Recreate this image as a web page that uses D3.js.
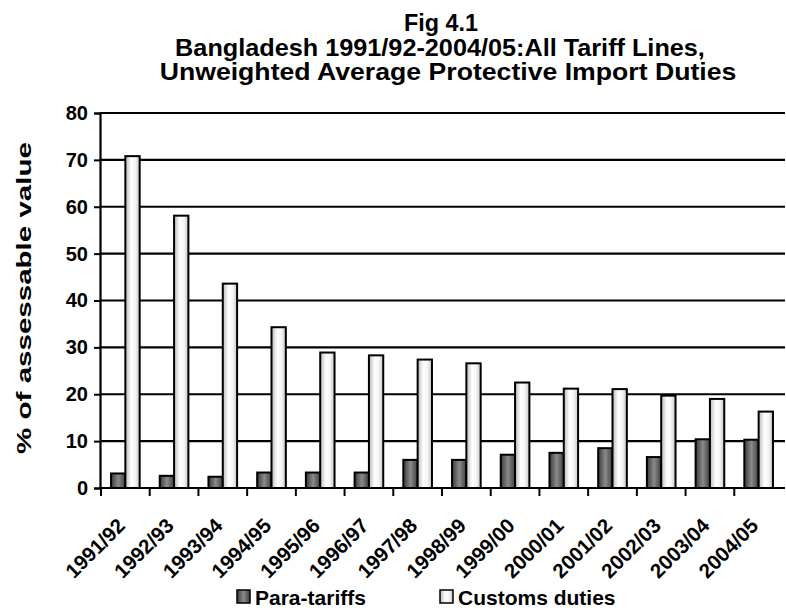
<!DOCTYPE html>
<html><head><meta charset="utf-8">
<script src="https://cdn.jsdelivr.net/npm/d3@7"></script>
<style>body{margin:0;background:#fff}svg{display:block}text{font-family:"Liberation Sans",Arial,sans-serif;font-weight:bold;fill:#000}</style>
</head><body>
<script>
const categories = ["1991/92","1992/93","1993/94","1994/95","1995/96","1996/97","1997/98","1998/99","1999/00","2000/01","2001/02","2002/03","2003/04","2004/05"];
const paraTariffs = [3.1,2.6,2.4,3.3,3.3,3.3,6.0,6.0,7.1,7.5,8.5,6.6,10.4,10.3];
const customsDuties = [70.8,58.1,43.6,34.3,28.9,28.3,27.4,26.6,22.5,21.2,21.1,19.7,19.0,16.3];
const seriesNames = ["Para-tariffs","Customs duties"];
const yTicks = [0,10,20,30,40,50,60,70,80];
const titleLines = ["Fig 4.1","Bangladesh 1991/92-2004/05:All Tariff Lines,","Unweighted Average Protective Import Duties"];
const yLabel = "% of assessable value";

const W=786,H=610;
const svg=d3.select("body").append("svg").attr("width",W).attr("height",H);
const defs=svg.append("defs");
function grad(id,stops){const g=defs.append("linearGradient").attr("id",id).attr("x1","0").attr("x2","1").attr("y1","0").attr("y2","0");
 stops.forEach(s=>g.append("stop").attr("offset",s[0]).attr("stop-color",s[1]));}
grad("gPara",[["0%","#3a3a3a"],["50%","#8a8a8a"],["100%","#404040"]]);
grad("gCust",[["0%","#b8b8b8"],["40%","#ffffff"],["70%","#f4f4f4"],["100%","#c4c4c4"]]);
const fills=["url(#gPara)","url(#gCust)"];

const pL=101,pR=783,pT=113,pB=488;
const x=d3.scaleBand().domain(categories).range([pL,pR]).padding(0);
const y=d3.scaleLinear().domain([0,80]).range([pB,pT]);
const bw=x.bandwidth();
const barW=bw*0.294;

// gridlines
svg.append("g").selectAll("line").data(yTicks.filter(t=>t>0)).join("line")
 .attr("x1",pL-1).attr("x2",785).attr("y1",d=>y(d)).attr("y2",d=>y(d))
 .attr("stroke","#000").attr("stroke-width",2.2);

// bars
const series=[paraTariffs,customsDuties];
series.forEach((vals,si)=>{
 svg.append("g").selectAll("rect").data(categories).join("rect")
  .attr("x",(c)=>x(c)+bw/2-barW+si*barW)
  .attr("y",(c,i)=>y(vals[i]))
  .attr("width",barW)
  .attr("height",(c,i)=>y(0)-y(vals[i]))
  .attr("fill",fills[si]).attr("stroke","#000").attr("stroke-width",2);
});

// y axis
const yAx=svg.append("g").attr("transform",`translate(${pL-1},0)`)
 .call(d3.axisLeft(y).tickValues(yTicks).tickSize(6).tickPadding(6));
yAx.select(".domain").attr("stroke","#000").attr("stroke-width",2.2);
yAx.selectAll(".tick line").attr("stroke","#000").attr("stroke-width",2);
yAx.selectAll(".tick text").attr("font-size",20).style("font-family","Liberation Sans, Arial, sans-serif").style("font-weight","bold").attr("fill","#000");

// x axis
svg.append("line").attr("x1",pL-1).attr("x2",785).attr("y1",pB).attr("y2",pB).attr("stroke","#000").attr("stroke-width",2.2);
const bounds=categories.map(c=>x(c));
svg.append("g").selectAll("line").data(bounds).join("line")
 .attr("x1",d=>d).attr("x2",d=>d).attr("y1",pB).attr("y2",pB+8)
 .attr("stroke","#000").attr("stroke-width",2);
svg.append("g").selectAll("text").data(categories).join("text")
 .attr("transform",c=>`translate(${x(c)+bw/2+1},${pB+39}) rotate(-45)`)
 .attr("text-anchor","end").attr("font-size",20.5).text(c=>c);

// stretched text helper
function stretched(tx,ty,rot,txt,size,target){
 const g=svg.append("g");
 const t=g.append("text").attr("text-anchor","middle").attr("font-size",size).text(txt);
 const len=t.node().getComputedTextLength();
 const s=target/len;
 g.attr("transform",`translate(${tx},${ty}) rotate(${rot}) scale(${s},1)`);
}
// y label
stretched(31,298,-90,yLabel,21,312);

// title
const tY=[31,56,80];
const tLen=[74,530,577];
const tX=[441,440,448];
titleLines.forEach((t,i)=>stretched(tX[i],tY[i],0,t,23,tLen[i]));

// legend
const leg=[{x:237,name:seriesNames[0],f:fills[0]},{x:440,name:seriesNames[1],f:fills[1]}];
leg.forEach(l=>{
 svg.append("rect").attr("x",l.x).attr("y",590).attr("width",13).attr("height",13).attr("fill",l.f).attr("stroke","#000").attr("stroke-width",1.5);
 svg.append("text").attr("x",l.x+18).attr("y",605).attr("font-size",21).text(l.name);
});
</script>
</body></html>
